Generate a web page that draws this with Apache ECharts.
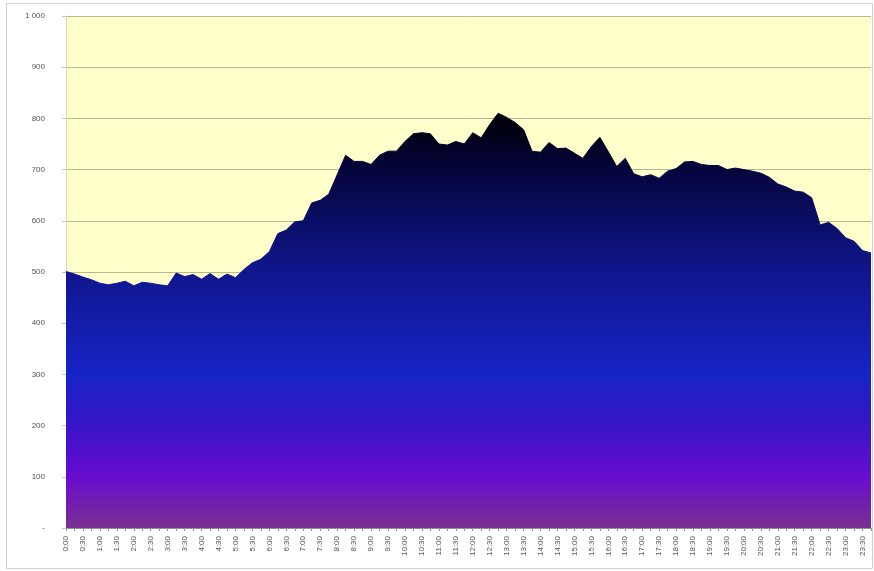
<!DOCTYPE html>
<html>
<head>
<meta charset="utf-8">
<script src="https://cdn.jsdelivr.net/npm/echarts@6/dist/echarts.min.js"></script>
<style>html,body{margin:0;padding:0;background:#fff;}#c{width:874px;height:571px;}</style>
</head>
<body>
<div id="c"></div>
<script>
// 15-minute time slots
const times = [];
for (let h = 0; h < 24; h++) {
  for (const m of ['00', '15', '30', '45']) times.push(h + ':' + m);
}
const values = [
  501, 496, 490, 485, 478, 475, 478, 482, 473, 480, 478, 475,
  473, 498, 491, 495, 486, 497, 486, 496, 489, 505, 518, 525,
  540, 575, 582, 598, 600, 635, 640, 652, 690, 728, 716, 716,
  710, 728, 736, 736, 755, 770, 772, 770, 750, 748, 755, 750,
  772, 762, 788, 810, 802, 792, 778, 736, 734, 753, 741, 742,
  732, 722, 745, 763, 735, 706, 722, 692, 686, 690, 683, 697,
  702, 715, 716, 710, 708, 708, 700, 703, 700, 697, 693, 685,
  672, 666, 658, 656, 645, 592, 597, 585, 567, 560, 542, 537
];
const yTicks = [0, 100, 200, 300, 400, 500, 600, 700, 800, 900, 1000];

const chart = echarts.init(document.getElementById('c'));
const grad = {
  type: 'linear', x: 0, y: 16, x2: 0, y2: 528, global: true,
  colorStops: [
    { offset: 0.0, color: '#000000' },
    { offset: 0.2, color: '#000008' },
    { offset: 0.3, color: '#05053c' },
    { offset: 0.5, color: '#10168e' },
    { offset: 0.7, color: '#1624c6' },
    { offset: 0.8, color: '#3814c8' },
    { offset: 0.9, color: '#680cd0' },
    { offset: 1.0, color: '#7a3090' }
  ]
};
chart.setOption({
  animation: false,
  backgroundColor: '#ffffff',
  graphic: [{
    type: 'rect', z: -10, silent: true,
    shape: { x: 6.5, y: 3.5, width: 866, height: 565 },
    style: { fill: 'none', stroke: '#d0d0d0', lineWidth: 1 }
  }],
  grid: { left: 66, right: 3, top: 16, bottom: 43, show: true, backgroundColor: '#ffffcc', borderWidth: 0 },
  xAxis: {
    type: 'category',
    data: times,
    boundaryGap: false,
    axisLine: { show: true, lineStyle: { color: '#909090' } },
    axisTick: { show: true, interval: 0, length: 3, lineStyle: { color: '#909090' } },
    axisLabel: {
      interval: 1, rotate: 90, fontSize: 8, color: '#555', margin: 8,
      fontFamily: 'Liberation Sans'
    },
    splitLine: { show: false }
  },
  yAxis: {
    type: 'value',
    min: 0, max: 1000, interval: 100,
    axisLine: { show: true, lineStyle: { color: '#d8d8c0' } },
    axisTick: { show: true, length: 4, lineStyle: { color: '#c8c8b0' } },
    axisLabel: {
      fontSize: 8, color: '#555', margin: 21, fontFamily: 'Liberation Sans',
      formatter: function (v) {
        if (v === 0) return '-';
        if (v === 1000) return '1 000';
        return String(v);
      }
    },
    splitLine: { show: true, lineStyle: { color: '#b8b896', width: 1 } }
  },
  series: [{
    type: 'line',
    data: values,
    symbol: 'none',
    smooth: false,
    lineStyle: { width: 1, color: grad },
    areaStyle: { color: grad, opacity: 1 }
  }]
});
</script>
</body>
</html>
